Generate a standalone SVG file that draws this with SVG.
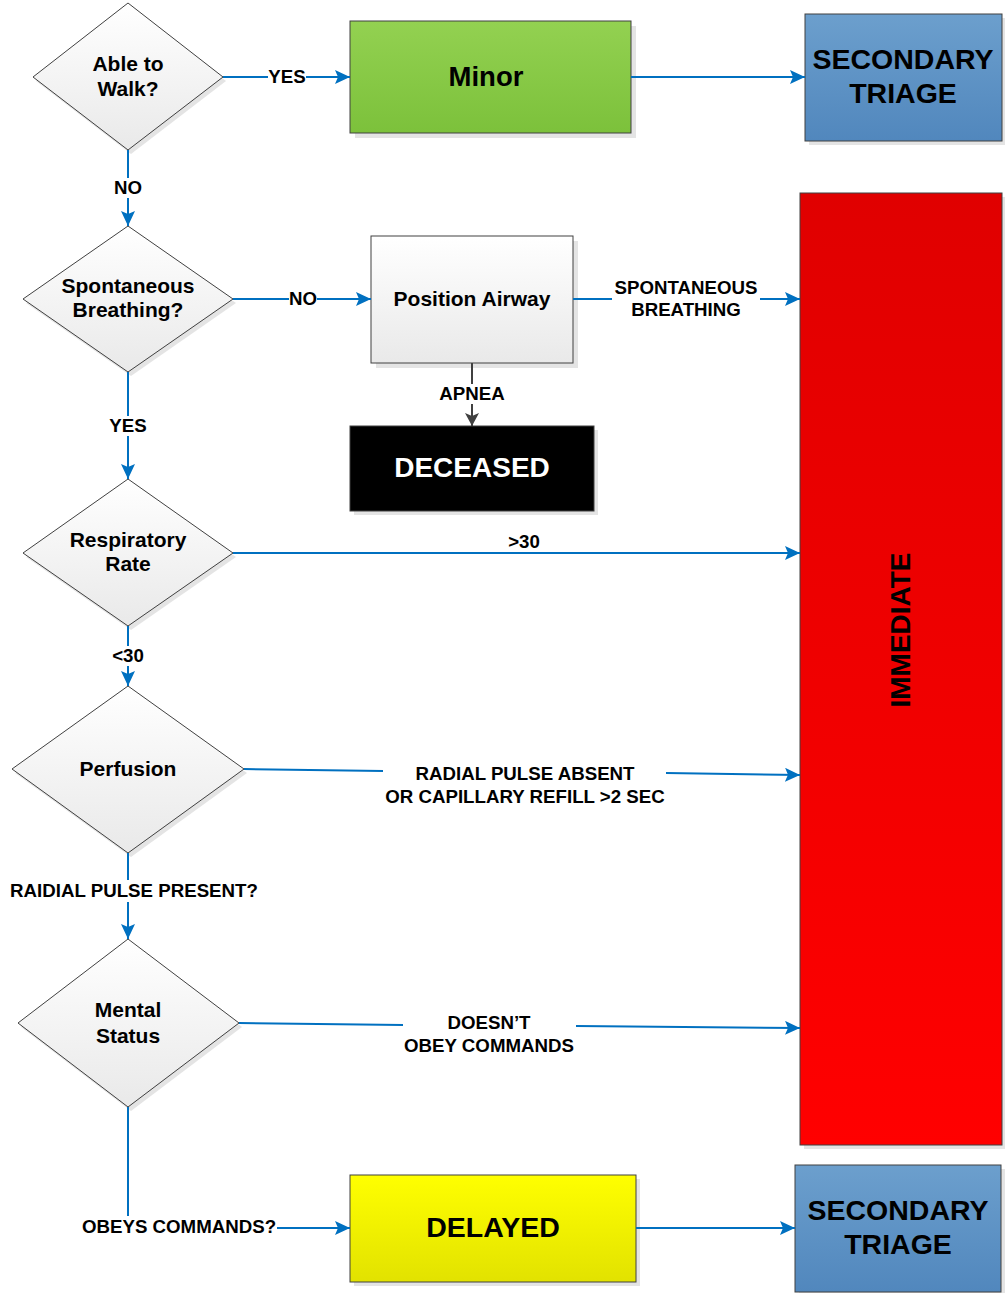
<svg xmlns="http://www.w3.org/2000/svg" width="1005" height="1293" viewBox="0 0 1005 1293">
<style>
.t{font-family:"Liberation Sans",Arial,sans-serif;font-weight:bold;text-anchor:middle;fill:#000}
.dt{font-size:21px}
.lb{font-size:18.7px}
.big{font-size:28.5px}
.dia{stroke:#404040;stroke-width:1;fill:url(#gGray)}
.box{stroke:#404040;stroke-width:1}
.sh{fill:#d9d9d9;opacity:0.7}
.conn{stroke:#0070c0;stroke-width:2;fill:none}
.connd{stroke:#404040;stroke-width:2;fill:none}
.bg{fill:#fff}
</style>
<defs>
<linearGradient id="gGray" x1="0" y1="0" x2="0" y2="1"><stop offset="0" stop-color="#ffffff"/><stop offset="1" stop-color="#e9e9e9"/></linearGradient>
<linearGradient id="gGreen" x1="0" y1="0" x2="0" y2="1"><stop offset="0" stop-color="#93d151"/><stop offset="1" stop-color="#7cc13b"/></linearGradient>
<linearGradient id="gBlue" x1="0" y1="0" x2="0" y2="1"><stop offset="0" stop-color="#6c9fcd"/><stop offset="1" stop-color="#5187bd"/></linearGradient>
<linearGradient id="gRed" x1="0" y1="0" x2="0" y2="1"><stop offset="0" stop-color="#e00000"/><stop offset="1" stop-color="#ff0000"/></linearGradient>
<linearGradient id="gYellow" x1="0" y1="0" x2="0" y2="1"><stop offset="0" stop-color="#ffff00"/><stop offset="1" stop-color="#e2e200"/></linearGradient>
<marker id="ab" markerUnits="userSpaceOnUse" markerWidth="15" markerHeight="14" refX="15" refY="7" orient="auto"><path d="M0,0 L15,7 L0,14 L3,7 z" fill="#0070c0"/></marker>
<marker id="ad" markerUnits="userSpaceOnUse" markerWidth="13" markerHeight="14" refX="13" refY="7" orient="auto"><path d="M0,0 L13,7 L0,14 L3,7 z" fill="#404040"/></marker>
</defs>
<rect width="1005" height="1293" fill="#fff"/>

<g id="n-walk">
<polygon class="sh" points="131,7 226,81 131,154 36,81"/>
<polygon class="dia" points="128,3 223,77 128,150 33,77"/>
<text class="t dt" x="128" y="71">Able to</text>
<text class="t dt" x="128" y="96">Walk?</text>
</g>

<g id="n-minor">
<rect class="sh" x="355" y="26" width="281" height="112"/>
<rect class="box" x="350" y="21" width="281" height="112" fill="url(#gGreen)"/>
<text class="t" x="486" y="86" font-size="27.5">Minor</text>
</g>

<g id="n-secondary1">
<rect class="sh" x="809" y="18" width="197" height="127"/>
<rect class="box" x="805" y="14" width="197" height="127" fill="url(#gBlue)"/>
<text class="t big" x="903" y="69">SECONDARY</text>
<text class="t big" x="903" y="103">TRIAGE</text>
</g>

<g id="n-breathing">
<polygon class="sh" points="131,230 236,303 131,376 26,303"/>
<polygon class="dia" points="128,226 233,299 128,372 23,299"/>
<text class="t dt" x="128" y="293">Spontaneous</text>
<text class="t dt" x="128" y="317">Breathing?</text>
</g>

<g id="n-airway">
<rect class="sh" x="376" y="241" width="202" height="127"/>
<rect class="box" x="371" y="236" width="202" height="127" fill="url(#gGray)" stroke="#6a6a6a"/>
<text class="t dt" x="472" y="306">Position Airway</text>
</g>

<g id="n-deceased">
<rect class="sh" x="354" y="430" width="244" height="85"/>
<rect class="box" x="350" y="426" width="244" height="85" fill="#000"/>
<text class="t" x="472" y="477" font-size="28" style="fill:#fff">DECEASED</text>
</g>

<g id="n-immediate">
<rect class="sh" x="804" y="197" width="202" height="952"/>
<rect class="box" x="800" y="193" width="202" height="952" fill="url(#gRed)" stroke="#8a2a2a"/>
<text class="t" x="0" y="0" font-size="28" transform="translate(910,630) rotate(-90)">IMMEDIATE</text>
</g>

<g id="n-resp">
<polygon class="sh" points="131,483 236,557 131,630 26,557"/>
<polygon class="dia" points="128,479 233,553 128,626 23,553"/>
<text class="t dt" x="128" y="547">Respiratory</text>
<text class="t dt" x="128" y="571">Rate</text>
</g>

<g id="n-perfusion">
<polygon class="sh" points="131,690 247,773 131,857 15,773"/>
<polygon class="dia" points="128,686 244,769 128,853 12,769"/>
<text class="t dt" x="128" y="776">Perfusion</text>
</g>

<g id="n-mental">
<polygon class="sh" points="131,943 242,1027 131,1111 21,1027"/>
<polygon class="dia" points="128,939 239,1023 128,1107 18,1023"/>
<text class="t dt" x="128" y="1017">Mental</text>
<text class="t dt" x="128" y="1043">Status</text>
</g>

<g id="n-delayed">
<rect class="sh" x="354" y="1179" width="286" height="107"/>
<rect class="box" x="350" y="1175" width="286" height="107" fill="url(#gYellow)"/>
<text class="t big" x="493" y="1237">DELAYED</text>
</g>

<g id="n-secondary2">
<rect class="sh" x="799" y="1169" width="206" height="124"/>
<rect class="box" x="795" y="1165" width="206" height="127" fill="url(#gBlue)"/>
<text class="t big" x="898" y="1220">SECONDARY</text>
<text class="t big" x="898" y="1254">TRIAGE</text>
</g>

<g id="connectors">
<line class="conn" x1="223" y1="77" x2="350" y2="77" marker-end="url(#ab)"/>
<line class="conn" x1="631" y1="77" x2="805" y2="77" marker-end="url(#ab)"/>
<line class="conn" x1="128" y1="150" x2="128" y2="226" marker-end="url(#ab)"/>
<line class="conn" x1="233" y1="299" x2="371" y2="299" marker-end="url(#ab)"/>
<line class="conn" x1="573" y1="299" x2="800" y2="299" marker-end="url(#ab)"/>
<line class="connd" x1="472" y1="363" x2="472" y2="426" marker-end="url(#ad)"/>
<line class="conn" x1="128" y1="372" x2="128" y2="479" marker-end="url(#ab)"/>
<line class="conn" x1="233" y1="553" x2="800" y2="553" marker-end="url(#ab)"/>
<line class="conn" x1="128" y1="626" x2="128" y2="686" marker-end="url(#ab)"/>
<line class="conn" x1="244" y1="769" x2="383" y2="771"/>
<line class="conn" x1="666" y1="773" x2="800" y2="775" marker-end="url(#ab)"/>
<line class="conn" x1="128" y1="853" x2="128" y2="939" marker-end="url(#ab)"/>
<line class="conn" x1="239" y1="1023" x2="403" y2="1025"/>
<line class="conn" x1="576" y1="1026" x2="800" y2="1028" marker-end="url(#ab)"/>
<polyline class="conn" points="128,1107 128,1228 350,1228" marker-end="url(#ab)"/>
<line class="conn" x1="636" y1="1228" x2="795" y2="1228" marker-end="url(#ab)"/>
<rect class="bg" x="268" y="68" width="38" height="18"/>
<text class="t lb" x="287" y="83">YES</text>
<rect class="bg" x="113" y="178" width="30" height="20"/>
<text class="t lb" x="128" y="194">NO</text>
<rect class="bg" x="289" y="290" width="28" height="18"/>
<text class="t lb" x="303" y="305">NO</text>
<rect class="bg" x="612" y="276" width="148" height="46"/>
<text class="t lb" x="686" y="294">SPONTANEOUS</text>
<text class="t lb" x="686" y="316">BREATHING</text>
<rect class="bg" x="438" y="384" width="68" height="20"/>
<text class="t lb" x="472" y="400">APNEA</text>
<rect class="bg" x="108" y="416" width="40" height="20"/>
<text class="t lb" x="128" y="432">YES</text>
<rect class="bg" x="507" y="533" width="35" height="19"/>
<text class="t lb" x="524" y="548">&gt;30</text>
<rect class="bg" x="108" y="646" width="40" height="20"/>
<text class="t lb" x="128" y="662">&lt;30</text>
<text class="t lb" x="525" y="780">RADIAL PULSE ABSENT</text>
<text class="t lb" x="525" y="803">OR CAPILLARY REFILL &gt;2 SEC</text>
<rect class="bg" x="8" y="880" width="252" height="22"/>
<text class="t lb" x="134" y="897">RAIDIAL PULSE PRESENT?</text>
<text class="t lb" x="489" y="1029">DOESN’T</text>
<text class="t lb" x="489" y="1052">OBEY COMMANDS</text>
<rect class="bg" x="80" y="1216" width="197" height="22"/>
<text class="t lb" x="179" y="1233">OBEYS COMMANDS?</text>
</g>
</svg>
